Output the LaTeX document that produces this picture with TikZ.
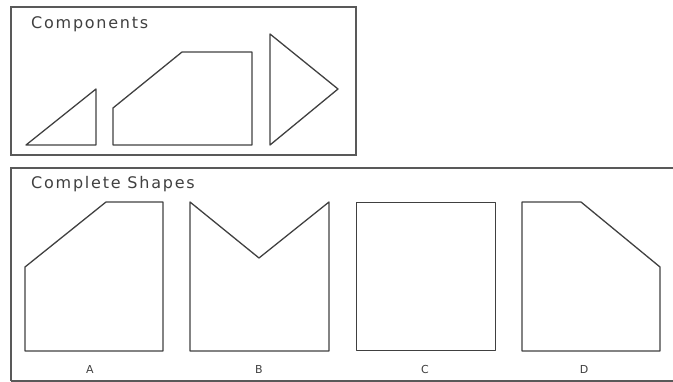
\documentclass[tikz,border=0pt]{standalone}
\usepackage{fontspec}
\setmainfont{DejaVu Sans}
\begin{document}
\begin{tikzpicture}[x=1pt,y=-1pt,
  frame/.style={draw=black!65,line width=1.6pt},
  piece/.style={draw=black!75,line width=1.3pt,line join=round},
  title/.style={anchor=west,inner sep=0pt,font=\fontsize{16}{18}\selectfont\addfontfeature{LetterSpace=11},text=black!75},
  lab/.style={inner sep=0pt,font=\fontsize{11}{12}\selectfont,text=black!75}]
\useasboundingbox (0,0) rectangle (673,382);
% top frame
\draw[frame] (11,7) rectangle (356,155);
\node[title] (comp) at (31,24) {Components};
\draw[piece] (26,145) -- (96,89) -- (96,145) -- cycle;
\draw[piece] (113,145) -- (113,108) -- (182,52) -- (252,52) -- (252,145) -- cycle;
\draw[piece] (270,34) -- (338,89) -- (270,145) -- cycle;
% bottom frame
\draw[frame] (11,381) -- (11,168) -- (680,168);
\draw[frame] (11,381) -- (680,381);
\node[title] (compl) at (31,184) {Complete Shapes};
\draw[piece] (25,351) -- (25,267) -- (106,202) -- (163,202) -- (163,351) -- cycle;
\draw[piece] (190,351) -- (190,202) -- (259,258) -- (329,202) -- (329,351) -- cycle;
\draw[piece] (356.3,202.3) rectangle (495.7,350.7);
\draw[piece] (522,351) -- (522,202) -- (581,202) -- (660,267) -- (660,351) -- cycle;
\node[lab] (la) at (90,369) {A};
\node[lab] (lb) at (259,369) {B};
\node[lab] (lc) at (425,369) {C};
\node[lab] (ld) at (584,369) {D};
\end{tikzpicture}
\end{document}
